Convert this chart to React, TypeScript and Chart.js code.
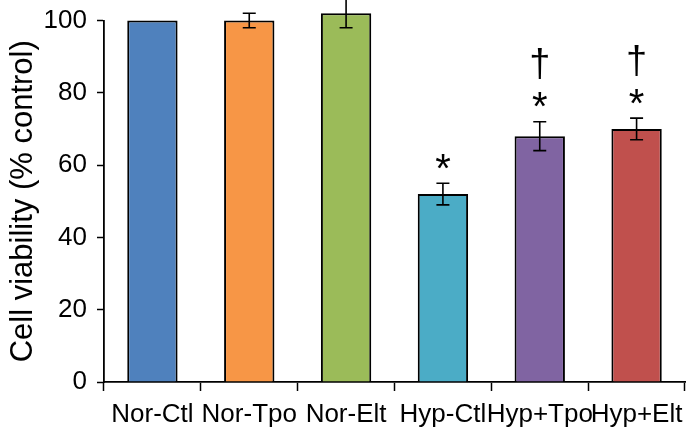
import React, { useEffect, useRef } from "react";
import { Chart, registerables } from "chart.js";

Chart.register(...registerables);

const categories = ["Nor-Ctl", "Nor-Tpo", "Nor-Elt", "Hyp-Ctl", "Hyp+Tpo", "Hyp+Elt"];
const viability = [100, 100, 102, 52, 68, 70];
const errors = [0, 2, 4, 3, 4, 3];
const starMarks = ["", "", "", "*", "*", "*"];
const daggerMarks = ["", "", "", "", "†", "†"];
const barColors = ["#4F81BD", "#F79646", "#9BBB59", "#4BACC6", "#8064A2", "#C0504D"];
const yMin = 0;
const yMax = 100;
const yStep = 20;

const FONT = "'Liberation Sans', Arial, sans-serif";

function drawCentered(ctx: CanvasRenderingContext2D, text: string, x: number, cy: number) {
  const m = ctx.measureText(text);
  const asc = m.actualBoundingBoxAscent;
  const desc = m.actualBoundingBoxDescent;
  ctx.fillText(text, x, cy + (asc - desc) / 2);
}

const errorPlugin = {
  id: "errorBarsAndMarks",
  afterDatasetsDraw(chart: any) {
    const ctx: CanvasRenderingContext2D = chart.ctx;
    const meta = chart.getDatasetMeta(0);
    const yScale = chart.scales.y;
    ctx.save();
    ctx.strokeStyle = "#000";
    ctx.lineWidth = 1.6;
    meta.data.forEach((bar: any, i: number) => {
      const e = errors[i];
      const x = bar.x;
      const top = yScale.getPixelForValue(viability[i] + e);
      const bot = yScale.getPixelForValue(viability[i] - e);
      if (e > 0) {
        ctx.beginPath();
        ctx.moveTo(x, top);
        ctx.lineTo(x, bot);
        ctx.moveTo(x - 6.5, top);
        ctx.lineTo(x + 6.5, top);
        ctx.moveTo(x - 6.5, bot);
        ctx.lineTo(x + 6.5, bot);
        ctx.stroke();
      }
      ctx.fillStyle = "#000";
      ctx.textAlign = "center";
      ctx.textBaseline = "alphabetic";
      if (starMarks[i]) {
        ctx.font = `40px ${FONT}`;
        drawCentered(ctx, starMarks[i], x, top - 22);
      }
      if (daggerMarks[i]) {
        ctx.font = `38px ${FONT}`;
        drawCentered(ctx, daggerMarks[i], x, top - 58);
      }
    });
    ctx.restore();
  },
};

export default function App() {
  const canvasRef = useRef<HTMLCanvasElement | null>(null);

  useEffect(() => {
    if (!canvasRef.current) return;
    const chart = new Chart(canvasRef.current, {
      type: "bar",
      data: {
        labels: categories,
        datasets: [
          {
            data: viability,
            backgroundColor: barColors,
            borderColor: "#000",
            borderWidth: 2,
            barPercentage: 0.52,
            categoryPercentage: 1,
            clip: false,
          } as any,
        ],
      },
      options: {
        animation: false,
        responsive: false,
        devicePixelRatio: 1,
        layout: { padding: { top: 20.5, right: 4, left: 0, bottom: 0 } },
        plugins: {
          legend: { display: false },
          tooltip: { enabled: false },
        },
        scales: {
          x: {
            grid: {
              display: true,
              drawOnChartArea: false,
              drawTicks: true,
              tickLength: 9,
              tickColor: "#000",
              tickWidth: 1.5,
              offset: true,
            },
            border: { display: true, color: "#000", width: 1.8 },
            ticks: {
              color: "#000",
              font: { family: FONT, size: 26 },
              padding: 8,
              maxRotation: 0,
              minRotation: 0,
              autoSkip: false,
            },
            afterFit: (scale: any) => {
              scale.height = 54;
              scale.paddingLeft = 0;
              scale.paddingRight = 0;
            },
          },
          y: {
            min: yMin,
            max: yMax,
            ticks: {
              stepSize: yStep,
              color: "#000",
              font: { family: FONT, size: 26 },
              padding: 10,
            },
            grid: {
              display: true,
              drawOnChartArea: false,
              drawTicks: true,
              tickLength: 7,
              tickColor: "#000",
              tickWidth: 1.5,
            },
            border: { display: true, color: "#000", width: 1.8 },
            title: {
              display: true,
              text: "Cell viability (% control)",
              color: "#000",
              font: { family: FONT, size: 31 },
              padding: { top: 5, bottom: 0 },
            },
            afterFit: (scale: any) => {
              scale.width = 104;
              scale.paddingTop = 0;
              scale.paddingBottom = 0;
            },
          },
        },
      },
      plugins: [errorPlugin],
    });
    return () => chart.destroy();
  }, []);

  return (
    <div style={{ position: "absolute", left: 0, top: 0, width: 689, height: 436, background: "#fff" }}>
      <canvas ref={canvasRef} width={689} height={436} style={{ width: 689, height: 436 }} />
    </div>
  );
}
